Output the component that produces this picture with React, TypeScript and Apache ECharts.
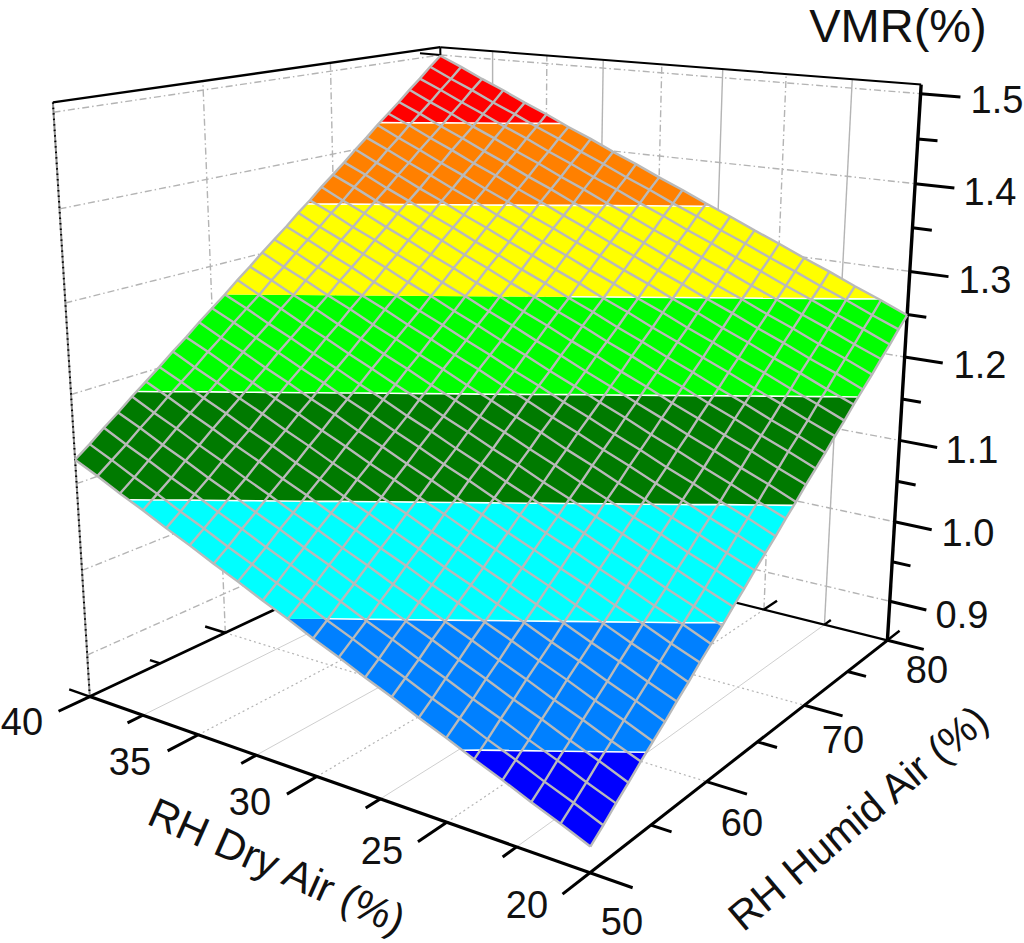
import React, { useEffect, useRef } from "react";
import * as echarts from "echarts";

// ---------- data ----------
const dryValues = [20,21,22,23,24,25,26,27,28,29,30,31,32,33,34,35,36,37,38,39,40];
const humidValues = [50,51,52,53,54,55,56,57,58,59,60,61,62,63,64,65,66,67,68,69,70,71,72,73,74,75,76,77,78,79,80];
// one row per dry value, one column per humid value
const vmrRows: number[][] = [
[.877,.889,.902,.914,.927,.939,.951,.964,.976,.989,1.001,1.013,1.026,1.038,1.051,1.063,1.075,1.088,1.100,1.113,1.125,1.137,1.150,1.162,1.175,1.187,1.199,1.212,1.224,1.237,1.249],
[.890,.902,.914,.927,.939,.952,.964,.976,.989,1.001,1.014,1.026,1.038,1.051,1.063,1.076,1.088,1.100,1.113,1.125,1.138,1.150,1.162,1.175,1.187,1.200,1.212,1.224,1.237,1.249,1.262],
[.902,.914,.927,.939,.952,.964,.976,.989,1.001,1.014,1.026,1.038,1.051,1.063,1.076,1.088,1.100,1.113,1.125,1.138,1.150,1.162,1.175,1.187,1.200,1.212,1.224,1.237,1.249,1.262,1.274],
[.915,.927,.939,.952,.964,.977,.989,1.001,1.014,1.026,1.039,1.051,1.063,1.076,1.088,1.101,1.113,1.125,1.138,1.150,1.163,1.175,1.187,1.200,1.212,1.225,1.237,1.249,1.262,1.274,1.287],
[.927,.939,.952,.964,.977,.989,1.001,1.014,1.026,1.039,1.051,1.063,1.076,1.088,1.101,1.113,1.125,1.138,1.150,1.163,1.175,1.187,1.200,1.212,1.225,1.237,1.249,1.262,1.274,1.287,1.299],
[.940,.952,.964,.977,.989,1.002,1.014,1.026,1.039,1.051,1.064,1.076,1.088,1.101,1.113,1.126,1.138,1.150,1.163,1.175,1.188,1.200,1.212,1.225,1.237,1.250,1.262,1.274,1.287,1.299,1.312],
[.952,.964,.977,.989,1.002,1.014,1.026,1.039,1.051,1.064,1.076,1.088,1.101,1.113,1.126,1.138,1.150,1.163,1.175,1.188,1.200,1.212,1.225,1.237,1.250,1.262,1.274,1.287,1.299,1.312,1.324],
[.965,.977,.989,1.002,1.014,1.027,1.039,1.051,1.064,1.076,1.089,1.101,1.113,1.126,1.138,1.151,1.163,1.175,1.188,1.200,1.213,1.225,1.237,1.250,1.262,1.275,1.287,1.299,1.312,1.324,1.337],
[.977,.989,1.002,1.014,1.027,1.039,1.051,1.064,1.076,1.089,1.101,1.113,1.126,1.138,1.151,1.163,1.175,1.188,1.200,1.213,1.225,1.237,1.250,1.262,1.275,1.287,1.299,1.312,1.324,1.337,1.349],
[.990,1.002,1.014,1.027,1.039,1.052,1.064,1.076,1.089,1.101,1.114,1.126,1.138,1.151,1.163,1.176,1.188,1.200,1.213,1.225,1.238,1.250,1.262,1.275,1.287,1.300,1.312,1.324,1.337,1.349,1.362],
[1.002,1.014,1.027,1.039,1.052,1.064,1.076,1.089,1.101,1.114,1.126,1.138,1.151,1.163,1.176,1.188,1.200,1.213,1.225,1.238,1.250,1.262,1.275,1.287,1.300,1.312,1.324,1.337,1.349,1.362,1.374],
[1.015,1.027,1.039,1.052,1.064,1.077,1.089,1.101,1.114,1.126,1.139,1.151,1.163,1.176,1.188,1.201,1.213,1.225,1.238,1.250,1.263,1.275,1.287,1.300,1.312,1.325,1.337,1.349,1.362,1.374,1.387],
[1.027,1.039,1.052,1.064,1.077,1.089,1.101,1.114,1.126,1.139,1.151,1.163,1.176,1.188,1.201,1.213,1.225,1.238,1.250,1.263,1.275,1.287,1.300,1.312,1.325,1.337,1.349,1.362,1.374,1.387,1.399],
[1.040,1.052,1.064,1.077,1.089,1.102,1.114,1.126,1.139,1.151,1.164,1.176,1.188,1.201,1.213,1.226,1.238,1.250,1.263,1.275,1.288,1.300,1.312,1.325,1.337,1.350,1.362,1.374,1.387,1.399,1.412],
[1.052,1.064,1.077,1.089,1.102,1.114,1.126,1.139,1.151,1.164,1.176,1.188,1.201,1.213,1.226,1.238,1.250,1.263,1.275,1.288,1.300,1.312,1.325,1.337,1.350,1.362,1.374,1.387,1.399,1.412,1.424],
[1.065,1.077,1.089,1.102,1.114,1.127,1.139,1.151,1.164,1.176,1.189,1.201,1.213,1.226,1.238,1.251,1.263,1.275,1.288,1.300,1.313,1.325,1.337,1.350,1.362,1.375,1.387,1.399,1.412,1.424,1.437],
[1.077,1.089,1.102,1.114,1.127,1.139,1.151,1.164,1.176,1.189,1.201,1.213,1.226,1.238,1.251,1.263,1.275,1.288,1.300,1.313,1.325,1.337,1.350,1.362,1.375,1.387,1.399,1.412,1.424,1.437,1.449],
[1.090,1.102,1.114,1.127,1.139,1.152,1.164,1.176,1.189,1.201,1.214,1.226,1.238,1.251,1.263,1.276,1.288,1.300,1.313,1.325,1.338,1.350,1.362,1.375,1.387,1.400,1.412,1.424,1.437,1.449,1.462],
[1.102,1.114,1.127,1.139,1.152,1.164,1.176,1.189,1.201,1.214,1.226,1.238,1.251,1.263,1.276,1.288,1.300,1.313,1.325,1.338,1.350,1.362,1.375,1.387,1.400,1.412,1.424,1.437,1.449,1.462,1.474],
[1.115,1.127,1.139,1.152,1.164,1.177,1.189,1.201,1.214,1.226,1.239,1.251,1.263,1.276,1.288,1.301,1.313,1.325,1.338,1.350,1.363,1.375,1.387,1.400,1.412,1.425,1.437,1.449,1.462,1.474,1.487],
[1.127,1.139,1.152,1.164,1.177,1.189,1.201,1.214,1.226,1.239,1.251,1.263,1.276,1.288,1.301,1.313,1.325,1.338,1.350,1.363,1.375,1.387,1.400,1.412,1.425,1.437,1.449,1.462,1.474,1.487,1.499],
];
const contourLevels = [0.9325, 1.015, 1.0975, 1.181, 1.263, 1.3465, 1.4275];
const bandColors = ["#0000ff","#0080ff","#00ffff","#007a00","#00ff00","#ffff00","#ff8000","#ff0000"];
const vmrMajorTicks = [0.9,1.0,1.1,1.2,1.3,1.4,1.5];
const vmrMinorTicks = [0.95,1.05,1.15,1.25,1.35,1.45];
const dryMajorTicks = [20,25,30,35,40];
const dryMinorTicks = [22.5,27.5,32.5,37.5];
const humidMajorTicks = [50,60,70,80];
const humidMinorTicks = [55,65,75];
const zFloor = 0.85, zTop = 1.51;

// ---------- camera calibrated on the box corners: [dry, humid, vmr, px, py] ----------
const anchors: number[][] = [
  [40,50,zFloor,90,696],[20,50,zFloor,590.7,872.7],[20,80,zFloor,887,640],[40,80,zFloor,443,530],
  [40,50,zTop,52,103],[20,80,zTop,920,84],[40,80,zTop,441.7,47],
  [20,80,0.9,890,602],[20,80,1.0,895,522],[20,80,1.1,900,440],[20,80,1.2,905,357],[20,80,1.3,908,272],[20,80,1.4,916,183],[20,80,1.5,921,94],
];
function fit(){
  const A:number[][]=[];const b:number[]=[];
  for(const [d,h,z,x0,y0] of anchors){const u=(d-20)/20,v=(h-50)/30,w=(z-zFloor)/(zTop-zFloor);const x=x0/1000,y=y0/1000;
    A.push([u,v,w,1,0,0,0,0,-x*u,-x*v,-x*w]);b.push(x);
    A.push([0,0,0,0,u,v,w,1,-y*u,-y*v,-y*w]);b.push(y);}
  const n=11;const M:number[][]=[];
  for(let i=0;i<n;i++){M.push(new Array(n+1).fill(0));for(let r=0;r<A.length;r++){for(let j=0;j<n;j++)M[i][j]+=A[r][i]*A[r][j];M[i][n]+=A[r][i]*b[r];}}
  for(let i=0;i<n;i++){let p=i;for(let r=i+1;r<n;r++)if(Math.abs(M[r][i])>Math.abs(M[p][i]))p=r;[M[i],M[p]]=[M[p],M[i]];
    for(let r=0;r<n;r++){if(r===i)continue;const f=M[r][i]/M[i][i];for(let j=i;j<=n;j++)M[r][j]-=f*M[i][j];}}
  return M.map((row,i)=>row[n]/row[i]);
}
const cam=fit();
function P(d:number,h:number,z:number):[number,number]{const u=(d-20)/20,v=(h-50)/30,w=(z-zFloor)/(zTop-zFloor);
  const W=cam[8]*u+cam[9]*v+cam[10]*w+1;return [1000*(cam[0]*u+cam[1]*v+cam[2]*w+cam[3])/W,1000*(cam[4]*u+cam[5]*v+cam[6]*w+cam[7])/W];}

type N={d:number,h:number,z:number};
function clip(poly:N[],lvl:number,keepAbove:boolean){const out:N[]=[];for(let i=0;i<poly.length;i++){const a=poly[i],b=poly[(i+1)%poly.length];
  const ia=keepAbove?a.z>=lvl:a.z<=lvl, ib=keepAbove?b.z>=lvl:b.z<=lvl;
  if(ia)out.push(a);
  if(ia!==ib){const t=(lvl-a.z)/(b.z-a.z);out.push({d:a.d+t*(b.d-a.d),h:a.h+t*(b.h-a.h),z:lvl});}}
 return out;}

const GREY="#b4b4b4";
const DASHDOT=[7,3,1.5,3];
type Seg={a:[number,number],b:[number,number],c:string,w:number,dash?:number[]};
function axisSegs():Seg[]{const s:Seg[]=[];const L=(p:[number,number],q:[number,number],c:string,w:number,dash?:number[])=>s.push({a:p,b:q,c,w,dash});
 for(const z of vmrMajorTicks){L(P(40,50,z),P(40,80,z),GREY,1.4,DASHDOT);L(P(40,80,z),P(20,80,z),GREY,1.4,DASHDOT);}
 for(const h of humidMajorTicks.slice(1,3)){L(P(40,h,zFloor),P(40,h,zTop),GREY,1.4,DASHDOT);L(P(40,h,zFloor),P(20,h,zFloor),GREY,1.2,[2,3]);}
 for(const d of dryMajorTicks.slice(1,4)){L(P(d,80,zFloor),P(d,80,zTop),GREY,1.4,DASHDOT);L(P(d,50,zFloor),P(d,80,zFloor),GREY,1.2,[2,3]);}
 for(const d of dryMinorTicks){L(P(d,80,zFloor),P(d,80,zTop),GREY,1.4);L(P(d,50,zFloor),P(d,80,zFloor),"#cfcfcf",1);}
 L(P(40,50,zFloor),P(40,50,zTop),"#8c8c8c",2);L(P(40,50,zFloor),P(40,50,zTop),"#000",2,[1.5,4]);
 L(P(40,50,zTop),P(40,80,zTop),"#000",2.4);L(P(40,80,zTop),P(20,80,zTop),"#000",2);
 L(P(40,50,zFloor),P(40,80,zFloor),"#000",2.6);L(P(40,80,zFloor),P(20,80,zFloor),"#000",2.2);
 L(P(40,50,zFloor),P(20,50,zFloor),"#000",3.2);L(P(20,50,zFloor),P(20,80,zFloor),"#000",3);L(P(20,80,zFloor),P(20,80,zTop),"#000",3.4);
 const dryTick=(d:number,a:number,b:number)=>{L(P(d,50,zFloor),P(d,50-a,zFloor),"#000",3);L(P(d,80,zFloor),P(d,80+b,zFloor),"#000",2.4);};
 dryMajorTicks.forEach(d=>dryTick(d,2.1,1.6));dryMinorTicks.forEach(d=>dryTick(d,1.05,0.8));
 const humTick=(h:number,a:number,b:number)=>{L(P(20,h,zFloor),P(20-a,h,zFloor),"#000",3);L(P(40,h,zFloor),P(40+b,h,zFloor),"#000",2.4);};
 humidMajorTicks.forEach(h=>humTick(h,1.4,1));humidMinorTicks.forEach(h=>humTick(h,0.7,0.5));
 vmrMajorTicks.forEach(z=>L(P(20,80,z),P(18.6,80,z),"#000",3));vmrMinorTicks.forEach(z=>L(P(20,80,z),P(19.3,80,z),"#000",3));
 L(P(40,80,1.5),P(41,80,1.5),"#000",2);L(P(40,80,1.5),P(40,80,zTop),"#000",2);
 return s;}
const segs=axisSegs();

const FONT="Liberation Sans, Arial, sans-serif";
type T={t:string,x:number,y:number,size:number,rot?:number};
const texts:T[]=[
 {t:"VMR(%)",x:898,y:25,size:47},
 {t:"1.5",x:997,y:100,size:38},{t:"1.4",x:990,y:192,size:38},{t:"1.3",x:985,y:280,size:38},{t:"1.2",x:980,y:365,size:38},{t:"1.1",x:972,y:450,size:38},{t:"1.0",x:968,y:533,size:38},{t:"0.9",x:962,y:615,size:38},
 {t:"40",x:22,y:722,size:38},{t:"35",x:130,y:762,size:38},{t:"30",x:250,y:802,size:38},{t:"25",x:382,y:851,size:38},{t:"20",x:527,y:905,size:38},
 {t:"50",x:622,y:922,size:38},{t:"60",x:742,y:823,size:38},{t:"70",x:843,y:740,size:38},{t:"80",x:927,y:670,size:38},
 {t:"RH Dry Air (%)",x:277,y:866,size:42,rot:-24},{t:"RH Humid Air (%)",x:858,y:818,size:41,rot:40},
];

export default function App(){const ref=useRef<HTMLDivElement>(null);
useEffect(()=>{const chart=echarts.init(ref.current!,undefined,{renderer:"svg"});
 const node=(a:number,b:number):N=>({d:dryValues[a],h:humidValues[b],z:vmrRows[a][b]});
 const cells:N[][]=[];for(let i=0;i<dryValues.length-1;i++)for(let j=0;j<humidValues.length-1;j++)cells.push([node(i,j),node(i+1,j),node(i+1,j+1),node(i,j+1)]);
 const seg=(api:any,s:Seg)=>{const p=api.coord(s.a),q=api.coord(s.b);return {type:"line",shape:{x1:p[0],y1:p[1],x2:q[0],y2:q[1]},style:{stroke:s.c,lineWidth:s.w,lineDash:s.dash}};};
 const pts=(api:any,poly:N[])=>poly.map(n=>api.coord(P(n.d,n.h,n.z)));
 chart.setOption({animation:false,backgroundColor:"#fff",
  grid:{left:0,right:0,top:0,bottom:0},
  xAxis:{type:"value",min:0,max:1024,show:false},yAxis:{type:"value",min:0,max:943,inverse:true,show:false},
  series:[
   {type:"custom",z:1,coordinateSystem:"cartesian2d",silent:true,data:segs.map((_,i)=>[i]),renderItem:(p:any,api:any)=>seg(api,segs[p.dataIndex])},
   {type:"custom",z:2,coordinateSystem:"cartesian2d",silent:true,data:cells.map((_,i)=>[i]),renderItem:(p:any,api:any)=>{const c=cells[p.dataIndex];const kids:any[]=[];
     for(let b=0;b<bandColors.length;b++){let poly=c;if(b>0)poly=clip(poly,contourLevels[b-1],true);if(poly.length&&b<contourLevels.length)poly=clip(poly,contourLevels[b],false);if(poly.length>2)kids.push({type:"polygon",shape:{points:pts(api,poly)},style:{fill:bandColors[b]}});}
     return {type:"group",children:kids};}},
   {type:"custom",z:3,coordinateSystem:"cartesian2d",silent:true,data:cells.map((_,i)=>[i]),renderItem:(p:any,api:any)=>{const c=cells[p.dataIndex];const kids:any[]=[];
     for(const l of contourLevels){const x:N[]=[];for(let i=0;i<4;i++){const a=c[i],b=c[(i+1)%4];if((a.z-l)*(b.z-l)<0){const t=(l-a.z)/(b.z-a.z);x.push({d:a.d+t*(b.d-a.d),h:a.h+t*(b.h-a.h),z:l});}}
      if(x.length===2){const r=pts(api,x);kids.push({type:"line",shape:{x1:r[0][0],y1:r[0][1],x2:r[1][0],y2:r[1][1]},style:{stroke:"#fff",lineWidth:1.6}});}}
     return {type:"group",children:kids};}},
   {type:"custom",z:4,coordinateSystem:"cartesian2d",silent:true,data:[...dryValues.map((_,i)=>[0,i]),...humidValues.map((_,i)=>[1,i])],renderItem:(p:any,api:any)=>{const k=api.value(0),i=api.value(1);
     const line:N[]=k===0?humidValues.map((_,j)=>node(i,j)):dryValues.map((_,a)=>node(a,i));
     return {type:"polyline",shape:{points:pts(api,line)},style:{stroke:"#b9b9b9",lineWidth:2.4,fill:"none"}};}},
   {type:"custom",z:5,coordinateSystem:"cartesian2d",silent:true,data:texts.map((_,i)=>[i]),renderItem:(p:any,api:any)=>{const t=texts[p.dataIndex];const q=api.coord([t.x,t.y]);
     return {type:"text",x:q[0],y:q[1],rotation:(t.rot||0)*Math.PI/180,style:{text:t.t,x:0,y:0,fill:"#111",font:`${t.size}px ${FONT}`,align:"center",verticalAlign:"middle"}};}},
  ]});
 return ()=>{chart.dispose();};},[]);
return <div ref={ref} style={{position:"fixed",left:0,top:0,width:1024,height:943}}/>;}
